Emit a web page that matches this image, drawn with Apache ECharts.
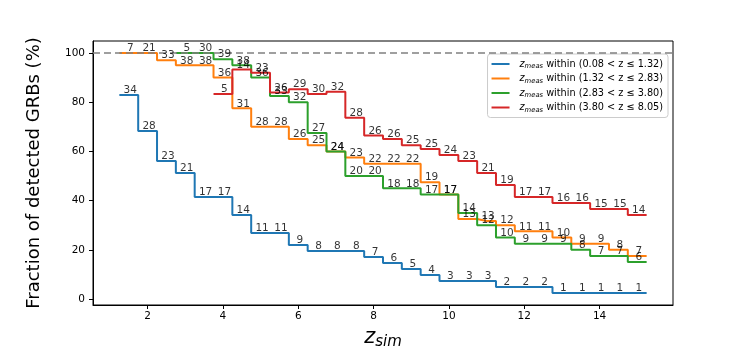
<!DOCTYPE html>
<html>
<head>
<meta charset="utf-8">
<script src="https://cdn.jsdelivr.net/npm/echarts@6/dist/echarts.min.js"></script>
<style>
html,body{margin:0;padding:0;background:#fff;}
#chart{width:747px;height:349px;}
</style>
</head>
<body>
<div id="chart"></div>
<script>
// z_sim grid (x positions of the steps)
const zsim = [1.5, 2.0, 2.5, 3.0, 3.5, 4.0, 4.5, 5.0, 5.5, 6.0, 6.5, 7.0, 7.5, 8.0, 8.5, 9.0, 9.5, 10.0, 10.5, 11.0, 11.5, 12.0, 12.5, 13.0, 13.5, 14.0, 14.5, 15.0];

// Blue: 0.08 < z <= 1.32 (starts at z_sim = 1.5)
const blueCounts = [34, 28, 23, 21, 17, 17, 14, 11, 11, 9, 8, 8, 8, 7, 6, 5, 4, 3, 3, 3, 2, 2, 2, 1, 1, 1, 1, 1];
const blueFrac   = [82.9, 68.3, 56.1, 51.2, 41.5, 41.5, 34.1, 26.8, 26.8, 22.0, 19.5, 19.5, 19.5, 17.1, 14.6, 12.2, 9.8, 7.3, 7.3, 7.3, 4.9, 4.9, 4.9, 2.4, 2.4, 2.4, 2.4, 2.4];

// Orange: 1.32 < z <= 2.83 (starts at z_sim = 1.5)
const orangeCounts = [7, 21, 33, 38, 38, 36, 31, 28, 28, 26, 25, 24, 23, 22, 22, 22, 19, 17, 13, 13, 12, 11, 11, 10, 9, 9, 8, 7];
const orangeFrac   = [100, 100, 97.1, 95, 95, 90, 77.5, 70, 70, 65, 62.5, 60, 57.5, 55, 55, 55, 47.5, 42.5, 32.5, 31.7, 30, 27.5, 27.5, 25, 22.5, 22.5, 20, 17.5];

// Green: 2.83 < z <= 3.80 (starts at z_sim = 3.0)
const greenCounts = [5, 30, 39, 38, 36, 33, 32, 27, 24, 20, 20, 18, 18, 17, 17, 14, 12, 10, 9, 9, 9, 8, 7, 7, 6];
const greenFrac   = [100, 100, 97.5, 95, 90, 82.5, 80, 67.5, 60, 50, 50, 45, 45, 42.5, 42.5, 35, 30, 25, 22.5, 22.5, 22.5, 20, 17.5, 17.5, 15];

// Red: 3.80 < z <= 8.05 (starts at z_sim = 4.0)
const redCounts = [5, 14, 23, 26, 29, 30, 32, 28, 26, 26, 25, 25, 24, 23, 21, 19, 17, 17, 16, 16, 15, 15, 14];
const redFrac   = [83.3, 93.3, 92, 83.9, 85.3, 83.3, 84.2, 73.7, 66.5, 65, 62.5, 61, 58.5, 56.1, 51.2, 46.3, 41.5, 41.5, 39, 39, 36.6, 36.6, 34.1];

const legendRanges = ['0.08 < z ≤ 1.32', '1.32 < z ≤ 2.83', '2.83 < z ≤ 3.80', '3.80 < z ≤ 8.05'];
const colors = ['#1f77b4', '#ff7f0e', '#2ca02c', '#d62728'];
const xTicks = [2, 4, 6, 8, 10, 12, 14];
const yTicks = [0, 20, 40, 60, 80, 100];

const FONT = 'DejaVu Sans';

const groups = [
  {z: zsim, c: blueCounts, f: blueFrac},
  {z: zsim, c: orangeCounts, f: orangeFrac},
  {z: zsim.slice(3), c: greenCounts, f: greenFrac},
  {z: zsim.slice(5), c: redCounts, f: redFrac}
];

function stepData(z, v) {
  const h = (z[1] - z[0]) / 2;
  const pts = [[z[0] - h, v[0]]];
  z.forEach((x, i) => pts.push([x, v[i]]));
  pts.push([z[z.length - 1] + h, v[v.length - 1]]);
  return pts;
}

const names = legendRanges.map(r => 'zmeas within (' + r + ')');
const series = [];
groups.forEach((g, k) => {
  series.push({
    name: names[k],
    type: 'line',
    step: 'middle',
    data: stepData(g.z, g.f),
    showSymbol: false,
    symbol: 'none',
    lineStyle: {width: 2, color: colors[k]},
    itemStyle: {color: colors[k]},
    z: 2 + k * 0.01,
    silent: true,
    animation: false
  });
});
groups.forEach((g, k) => {
  series.push({
    name: 'lab' + k,
    type: 'scatter',
    data: g.z.map((x, i) => [x, g.f[i], g.c[i]]),
    symbolSize: 0,
    silent: true,
    animation: false,
    z: 5,
    label: {
      show: true,
      position: 'top',
      distance: -1,
      offset: [1.5, 0],
      formatter: p => String(p.data[2]),
      fontFamily: FONT,
      fontSize: 10.5,
      color: '#000'
    }
  });
});
// 100% reference line
series.push({
  name: 'ref',
  type: 'line',
  data: [],
  silent: true,
  animation: false,
  z: 4,
  markLine: {
    silent: true,
    symbol: 'none',
    label: {show: false},
    lineStyle: {color: '#808080', type: [7, 4], width: 1.7},
    data: [{yAxis: 100}],
    animation: false
  }
});

const chart = echarts.init(document.getElementById('chart'), null, {renderer: 'canvas'});
chart.setOption({
  animation: false,
  backgroundColor: '#fff',
  grid: {left: 93, right: 74, top: 41, bottom: 44, show: true, borderColor: '#000', borderWidth: 1, backgroundColor: 'transparent', containLabel: false, outerBoundsMode: 'none'},
  legend: {
    data: names,
    orient: 'vertical',
    right: 79,
    top: 54,
    itemWidth: 18,
    itemHeight: 2,
    itemGap: 2.5,
    icon: 'rect',
    padding: [4, 5, 4, 4],
    backgroundColor: 'rgba(255,255,255,0.85)',
    borderColor: '#cccccc',
    borderWidth: 1,
    borderRadius: 3,
    selectedMode: false,
    formatter: n => '{i|z}{s|meas} within (' + legendRanges[names.indexOf(n)] + ')',
    textStyle: {
      fontFamily: FONT, fontSize: 9.7, color: '#000', lineHeight: 12, padding: [0, 0, 0, 5],
      rich: {
        i: {fontFamily: FONT, fontSize: 9.7, fontStyle: 'italic', color: '#000', lineHeight: 12},
        s: {fontFamily: FONT, fontSize: 6.8, fontStyle: 'italic', color: '#000', lineHeight: 8, verticalAlign: 'bottom', padding: [3, 0, 0, 0]}
      }
    }
  },
  xAxis: {
    type: 'value',
    min: 0.55,
    max: 15.95,
    name: '{z|z}{s|sim}',
    nameLocation: 'middle',
    nameGap: 11,
    nameTextStyle: {
      rich: {
        z: {fontFamily: FONT, fontSize: 21, fontStyle: 'italic', color: '#000', lineHeight: 24},
        s: {fontFamily: FONT, fontSize: 15, fontStyle: 'italic', color: '#000', lineHeight: 16, verticalAlign: 'bottom', padding: [7, 0, 0, 0]}
      }
    },
    axisLine: {onZero: false, lineStyle: {color: '#000', width: 1}},
    axisTick: {show: true, inside: false, length: 4, customValues: xTicks, lineStyle: {color: '#000'}},
    axisLabel: {customValues: xTicks, fontFamily: FONT, fontSize: 10.5, color: '#000', margin: 6},
    splitLine: {show: false}
  },
  yAxis: {
    type: 'value',
    min: -2.44,
    max: 104.88,
    name: 'Fraction of detected GRBs (%)',
    nameLocation: 'middle',
    nameGap: 50,
    nameRotate: 90,
    nameTextStyle: {fontFamily: FONT, fontSize: 18, color: '#000'},
    axisLine: {onZero: false, lineStyle: {color: '#000', width: 1}},
    axisTick: {show: true, inside: false, length: 4, customValues: yTicks, lineStyle: {color: '#000'}},
    axisLabel: {customValues: yTicks, fontFamily: FONT, fontSize: 10.5, color: '#000', margin: 8},
    splitLine: {show: false}
  },
  series: series
});
</script>
</body>
</html>
